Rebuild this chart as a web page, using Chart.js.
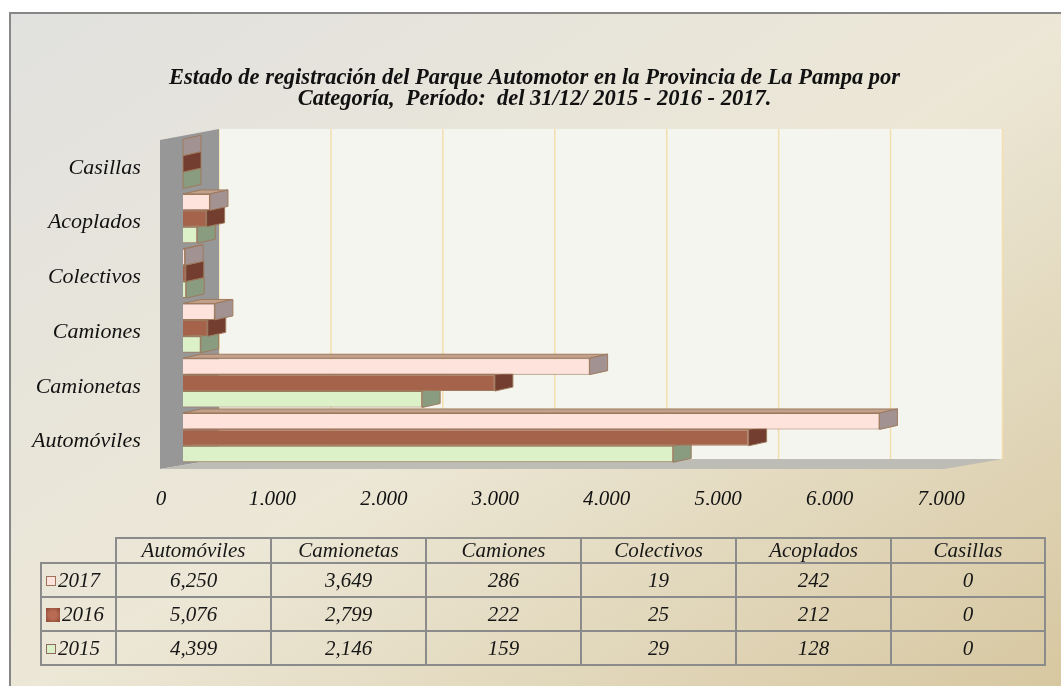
<!DOCTYPE html>
<html lang="es">
<head>
<meta charset="utf-8">
<title>Parque Automotor - La Pampa</title>
<script src="https://cdn.jsdelivr.net/npm/chart.js@4.4.1/dist/chart.umd.min.js"></script>
<style>
  html, body { margin: 0; padding: 0; background: #ffffff; }
  body { width: 1061px; height: 686px; position: relative; overflow: hidden; font-family: "Liberation Serif", serif; }
  #marco {
    position: absolute; left: 9px; top: 12px; width: 1070px; height: 690px;
    border-left: 2px solid #878787; border-top: 2px solid #878787;
    background: linear-gradient(to bottom right, #e1e1df 0%, #ece7d6 50%, #d6c69e 100%);
  }
  #grafico { position: absolute; left: 0; top: 0; }
  #tabla {
    position: absolute; left: 40px; top: 537px; border-collapse: collapse; table-layout: fixed;
    font-style: italic; font-size: 21px; color: #161616;
  }
  #tabla th, #tabla td { border: 2px solid #8b8b8b; text-align: center; padding: 0; font-weight: normal; }
  #tabla th { height: 23px; line-height: 23px; }
  #tabla td { height: 32px; line-height: 32px; }
  #tabla th.vacia { border: none; }
  #tabla td.anio { text-align: left; padding-left: 4px; white-space: nowrap; }
  .muestra { display: inline-block; width: 10px; height: 10px; margin-right: 2px; vertical-align: 1px; box-sizing: border-box; }
</style>
</head>
<body>
<div id="marco"></div>
<canvas id="grafico" width="1061" height="686"></canvas>
<table id="tabla"></table>
<script>
const categorias = ["Automóviles", "Camionetas", "Camiones", "Colectivos", "Acoplados", "Casillas"];
const anios = ["2017", "2016", "2015"];
const valores2017 = [6250, 3649, 286, 19, 242, 0];
const valores2016 = [5076, 2799, 222, 25, 212, 0];
const valores2015 = [4399, 2146, 159, 29, 128, 0];
const etiquetasX = ["0", "1,000", "2,000", "3,000", "4,000", "5,000", "6,000", "7,000"];
const tituloLineas = [
  "Estado de registración del Parque Automotor en la Provincia de La Pampa por",
  "Categoría,  Período:  del 31/12/ 2015 - 2016 - 2017.",
];

const coloresFrente = ["#fde3db", "#a5634b", "#ddf1c9"];
const coloresLado = ["#a39292", "#733d2f", "#8a9c80"];
const coloresTecho = ["#c2a18c", "#8c4f3c", "#aebf9e"];
const colorBorde = "#9e7a5d";
const muestras = [
  "background:#fde3db;border:1.5px solid #9e7258;",
  "background:radial-gradient(#b86a52 40%, #8a4634);width:14px;height:14px;vertical-align:-1px;",
  "background:#ddf1c9;border:1.5px solid #8e6a60;",
];

const profundidad = { dx: 18, dy: -4 };
const fuenteTicks = { family: "Liberation Serif", size: 21, style: "italic" };
const fuenteCategorias = { family: "Liberation Serif", size: 22, style: "italic" };

function poligono(ctx, puntos, relleno, trazo) {
  ctx.beginPath();
  puntos.forEach(([px, py], i) => (i === 0 ? ctx.moveTo(px, py) : ctx.lineTo(px, py)));
  ctx.closePath();
  ctx.fillStyle = relleno;
  ctx.fill();
  if (trazo) {
    ctx.strokeStyle = trazo;
    ctx.lineWidth = 1;
    ctx.stroke();
  }
}

// paredes, piso y lineas de la grilla del fondo
const escena3d = {
  id: "escena3d",
  beforeDatasetsDraw(chart) {
    const { ctx, chartArea: a, scales: { x } } = chart;
    const escala = 112 / 111.5;
    const fondoIzq = a.left + 36;
    const fondoTop = a.top - 7.5;
    const fondoBase = a.bottom - 6;
    const fondoDer = fondoIzq + (a.right - a.left) * escala;
    const frenteIzq = a.left - 23;
    const frenteDer = fondoDer - 58;

    ctx.save();
    ctx.fillStyle = "#f5f5ef";
    ctx.fillRect(fondoIzq, fondoTop, fondoDer - fondoIzq, fondoBase - fondoTop);

    ctx.strokeStyle = "#f5deae";
    ctx.lineWidth = 1.5;
    x.ticks.forEach((t) => {
      const px = fondoIzq + (x.getPixelForValue(t.value) - a.left) * escala;
      ctx.beginPath();
      ctx.moveTo(px, fondoTop);
      ctx.lineTo(px, fondoBase);
      ctx.stroke();
    });

    poligono(ctx, [[frenteIzq, a.top + 3.5], [fondoIzq, fondoTop], [fondoIzq, fondoBase], [frenteIzq, a.bottom + 4]], "#979797");
    poligono(ctx, [[frenteIzq, a.bottom + 4], [frenteDer, a.bottom + 4], [fondoDer, fondoBase], [fondoIzq, fondoBase]], "#bdbcb5");
    ctx.restore();
  },
  afterDatasetDraw(chart, args) {
    const { ctx } = chart;
    const i = args.index;
    const { dx, dy } = profundidad;
    ctx.save();
    args.meta.data.forEach((barra) => {
      const { x, y, base, height } = barra.getProps(["x", "y", "base", "height"], true);
      const arriba = y - height / 2;
      const abajo = y + height / 2;
      if (x > base) {
        poligono(ctx, [[base, arriba], [base + dx, arriba + dy], [x + dx, arriba + dy], [x, arriba]], coloresTecho[i], colorBorde);
      }
      poligono(ctx, [[x, arriba], [x + dx, arriba + dy], [x + dx, abajo + dy], [x, abajo]], coloresLado[i], colorBorde);
    });
    ctx.restore();
  },
};

const series = [valores2017, valores2016, valores2015];

new Chart(document.getElementById("grafico"), {
  type: "bar",
  data: {
    labels: categorias,
    datasets: series.map((valores, i) => ({
      label: anios[i],
      data: valores,
      backgroundColor: coloresFrente[i],
      borderColor: colorBorde,
      borderWidth: 1,
      categoryPercentage: 0.9,
      barPercentage: 1.0,
    })),
  },
  options: {
    responsive: false,
    animation: false,
    indexAxis: "y",
    layout: { padding: { left: 106, right: 98, top: 0, bottom: 181 } },
    plugins: {
      legend: { display: false },
      tooltip: { enabled: false },
      title: {
        display: true,
        text: tituloLineas,
        color: "#111111",
        font: { family: "Liberation Serif", size: 22.5, weight: "bold", style: "italic", lineHeight: 0.93 },
        padding: { top: 68, bottom: 26.6 },
      },
    },
    scales: {
      x: {
        min: 0,
        max: 7000,
        ticks: {
          stepSize: 1000,
          padding: 22,
          labelOffset: -22,
          color: "#111111",
          font: fuenteTicks,
          callback: (valor, i) => etiquetasX[i],
        },
        grid: { display: false, drawTicks: false },
        border: { display: false },
        afterFit(escala) { escala.height = 40; },
      },
      y: {
        reverse: true,
        // etiquetas alineadas a la derecha en x = 141, fuera de la caja del eje
        ticks: { mirror: true, crossAlign: "far", padding: -151, labelOffset: 4, color: "#111111", font: fuenteCategorias },
        grid: { display: false, drawTicks: false },
        border: { display: false },
        afterFit(escala) { escala.width = 77; },
      },
    },
  },
  plugins: [escena3d],
});

function construirTabla() {
  const tabla = document.getElementById("tabla");
  const anchos = [75, 155, 155, 155, 155, 155, 154];
  let html = "<colgroup>" + anchos.map((w) => `<col style="width:${w}px">`).join("") + "</colgroup>";
  html += '<tr><th class="vacia"></th>' + categorias.map((c) => `<th>${c}</th>`).join("") + "</tr>";
  series.forEach((valores, i) => {
    html += `<tr><td class="anio"><span class="muestra" style="${muestras[i]}"></span>${anios[i]}</td>`;
    html += valores.map((v) => `<td>${v.toLocaleString("en-US")}</td>`).join("") + "</tr>";
  });
  tabla.innerHTML = html;
}

construirTabla();
</script>
</body>
</html>
